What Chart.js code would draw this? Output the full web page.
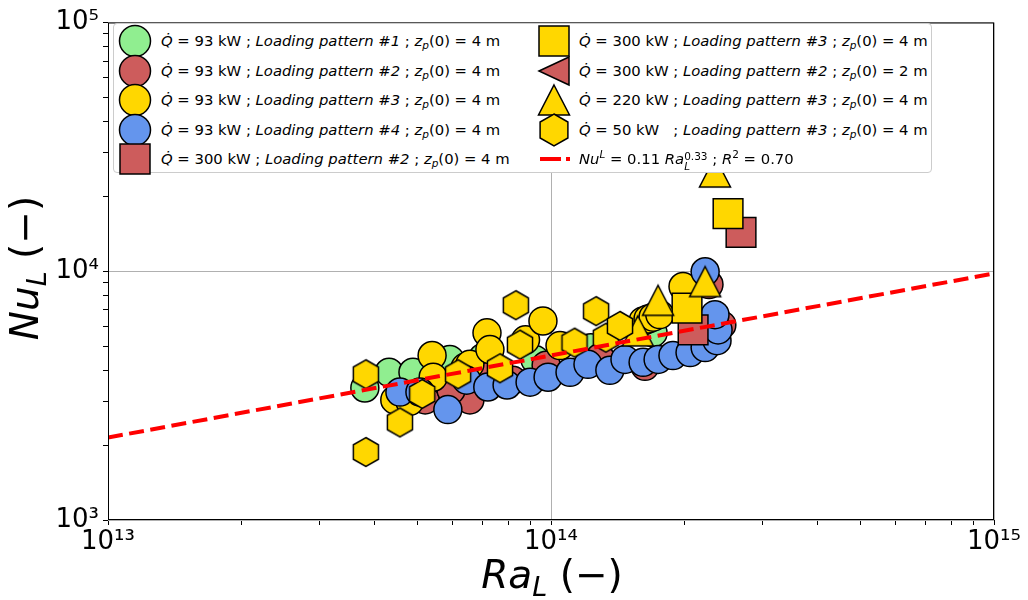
<!DOCTYPE html>
<html>
<head>
    <script src="https://cdn.jsdelivr.net/npm/chart.js@4/dist/chart.umd.min.js"></script>
    <style>
        body { margin: 0; background: #fff; }
        #wrap { position: relative; width: 1028px; height: 600px; font-family: 'DejaVu Sans', sans-serif; }
        #c { position: absolute; left: 0; top: 0; }
        #legend {
            position: absolute; left: 113px; top: 23px; width: 819px; height: 150px;
            background: #fff; border: 1px solid #cccccc; border-radius: 4px;
            box-sizing: border-box;
        }
        .mk { position: absolute; width: 36px; height: 36px; }
        .tx { position: absolute; font-size: 14.8px; line-height: 18px; white-space: pre; color: #000; }
        .tx sub { font-size: 10.5px; vertical-align: -3px; line-height: 0; }
        .tx sup { font-size: 10.5px; vertical-align: 6px; line-height: 0; }
        .ss { display: inline-block; vertical-align: -6px; line-height: 10px; font-size: 10.5px; }
        .ss span { display: block; }
        #xt { position: absolute; left: 352px; width: 400px; top: 553px; text-align: center; font-size: 39px; line-height: 44px; }
        #yt { position: absolute; left: -125px; top: 246px; width: 300px; text-align: center; font-size: 39px; line-height: 44px; transform: rotate(-90deg); }
        #xt sub, #yt sub { font-size: 27px; vertical-align: -8px; line-height: 0; }
    </style>
</head>
<body>
<div id="wrap">
    <canvas id="c" width="1028" height="600"></canvas>
    <div id="legend"></div>
    <div id="xt"><i>Ra</i><sub><i>L</i></sub> (−)</div>
    <div id="yt"><i>Nu</i><sub><i>L</i></sub> (−)</div>
</div>
<script>
    // axis ticks
    const xMajor = [1e13, 1e14, 1e15];
    const xTickLabels = ['10¹³', '10¹⁴', '10¹⁵'];
    const yMajor = [1e3, 1e4, 1e5];
    const yTickLabels = ['10³', '10⁴', '10⁵'];

    // Q = 93 kW, loading pattern #1
    const ra_93_lp1 = [3.80e13, 4.31e13, 4.88e13, 5.91e13, 7.02e13, 9.2e13, 1.23e14, 1.70e14];
    const nu_93_lp1 = [3395, 3925, 3925, 4421, 4500, 4420, 4930, 5650];
    // Q = 93 kW, loading pattern #2
    const ra_93_lp2 = [5.20e13, 6.56e13, 5.95e13, 7.28e13, 8.2e13, 9.75e13, 1.29e14, 1.63e14, 2.273e14, 2.43e14];
    const nu_93_lp2 = [3040, 3040, 3330, 3790, 3650, 4190, 4500, 4150, 8843, 6085];
    // Q = 93 kW, loading pattern #3
    const ra_93_lp3 = [4.44e13, 4.80e13, 5.39e13, 5.42e13, 6.40e13, 6.56e13, 7.17e13, 7.28e13, 8.76e13, 9.59e13, 1.048e14, 1.614e14, 1.656e14, 1.70e14, 1.76e14, 1.986e14];
    const nu_93_lp3 = [3040, 3000, 4584, 3750, 4109, 4224, 5653, 4842, 5300, 6310, 5024, 6310, 6430, 6540, 6700, 8683];
    // Q = 93 kW, loading pattern #4
    const ra_93_lp4 = [4.56e13, 5.06e13, 5.85e13, 6.45e13, 7.2e13, 7.96e13, 8.97e13, 9.85e13, 1.104e14, 1.212e14, 1.358e14, 1.469e14, 1.614e14, 1.745e14, 1.885e14, 2.06e14, 2.228e14, 2.37e14, 2.383e14, 2.345e14, 2.228e14];
    const nu_93_lp4 = [3270, 3270, 2778, 3648, 3425, 3489, 3582, 3749, 3925, 4224, 3998, 4421, 4303, 4421, 4584, 4712, 4932, 5260, 5810, 6690, 9950];
    // Q = 300 kW, loading pattern #2, zp(0) = 4 m
    const ra_300_lp2 = [2.093e14, 2.685e14];
    const nu_300_lp2 = [5810, 14330];
    // Q = 300 kW, loading pattern #3
    const ra_300_lp3 = [2.028e14, 2.51e14];
    const nu_300_lp3 = [7105, 17060];
    // Q = 300 kW, loading pattern #2, zp(0) = 2 m (not visible in the picture)
    const ra_300_lp2_z2 = [];
    const nu_300_lp2_z2 = [];
    // Q = 220 kW, loading pattern #3
    const ra_220_lp3 = [2.345e14, 1.745e14, 2.228e14, 1.57e14];
    const nu_220_lp3 = [25060, 7638, 9087, 5757];
    // Q = 50 kW, loading pattern #3
    const ra_50_lp3 = [3.82e13, 3.82e13, 4.56e13, 5.12e13, 6.17e13, 7.67e13, 8.33e13, 8.51e13, 1.13e14, 1.264e14, 1.33e14, 1.431e14];
    const nu_50_lp3 = [3853, 1876, 2466, 3211, 3853, 4072, 7301, 5070, 5162, 6912, 5404, 6030];
    // fit Nu = 0.11 Ra^0.33
    const fitRa = [1e13, 1e15];
    const fitNu = [2145, 9800];

    const GREEN = '#90ee90', RED = '#cd5c5c', GOLD = '#ffd700', BLUE = '#6495ed';

    function shapeCanvas(fill, kind) {
        const c = document.createElement('canvas');
        c.width = 36; c.height = 36;
        const g = c.getContext('2d');
        g.beginPath();
        if (kind === 'hex') {
            for (let k = 0; k < 6; k++) {
                const a = -Math.PI / 2 + k * Math.PI / 3;
                g.lineTo(18 + 14.5 * Math.cos(a), 18 + 14.5 * Math.sin(a));
            }
        } else if (kind === 'up') {
            g.moveTo(18, 3); g.lineTo(33.5, 33); g.lineTo(2.5, 33);
        } else if (kind === 'left') {
            g.moveTo(3, 18); g.lineTo(33, 3.5); g.lineTo(33, 32.5);
        }
        g.closePath();
        g.fillStyle = fill; g.fill();
        g.lineWidth = 1.5; g.strokeStyle = '#000'; g.stroke();
        return c;
    }

    function pts(ra, nu) { return ra.map((x, i) => ({ x: x, y: nu[i] })); }

    const series = [
        { ra: ra_93_lp1, nu: nu_93_lp1, color: GREEN, style: 'circle', r: 14 },
        { ra: ra_93_lp2, nu: nu_93_lp2, color: RED, style: 'circle', r: 14 },
        { ra: ra_93_lp3, nu: nu_93_lp3, color: GOLD, style: 'circle', r: 14 },
        { ra: ra_93_lp4, nu: nu_93_lp4, color: BLUE, style: 'circle', r: 14 },
        { ra: ra_300_lp2, nu: nu_300_lp2, color: RED, style: 'rect', r: 21 },
        { ra: ra_300_lp3, nu: nu_300_lp3, color: GOLD, style: 'rect', r: 21 },
        { ra: ra_300_lp2_z2, nu: nu_300_lp2_z2, color: RED, style: shapeCanvas(RED, 'left'), r: 15 },
        { ra: ra_220_lp3, nu: nu_220_lp3, color: GOLD, style: shapeCanvas(GOLD, 'up'), r: 15 },
        { ra: ra_50_lp3, nu: nu_50_lp3, color: GOLD, style: shapeCanvas(GOLD, 'hex'), r: 15 }
    ];

    const datasets = series.map((s, i) => ({
        type: 'scatter',
        data: pts(s.ra, s.nu),
        pointStyle: s.style,
        pointRadius: s.r,
        pointBackgroundColor: s.color,
        pointBorderColor: '#000',
        pointBorderWidth: 1.5,
        order: 20 - i
    }));
    datasets.push({
        type: 'line',
        data: pts(fitRa, fitNu),
        borderColor: '#ff0000',
        borderWidth: 4,
        borderDash: [15, 6.5],
        pointRadius: 0,
        fill: false,
        order: 0
    });

    function isMajor(list, v) { return list.findIndex(m => Math.abs(m - v) / m < 1e-9); }
    function logTicks(lo, hi) {
        const t = [];
        for (let d = lo; d < hi; d++) for (let m = 1; m < 10; m++) t.push({ value: m * Math.pow(10, d) });
        t.push({ value: Math.pow(10, hi) });
        return t;
    }

    const frame = {
        id: 'frame',
        afterDatasetsDraw(chart) {
            const a = chart.chartArea, g = chart.ctx;
            g.save();
            g.strokeStyle = '#000'; g.lineWidth = 1;
            g.strokeRect(a.left + 0.5, a.top + 0.5, a.right - a.left - 1, a.bottom - a.top - 1);
            g.restore();
        }
    };

    new Chart(document.getElementById('c'), {
        type: 'scatter',
        data: { datasets: datasets },
        options: {
            responsive: false,
            devicePixelRatio: 1,
            animation: false,
            events: [],
            layout: { padding: { top: 15, right: 34, left: 0, bottom: 0 } },
            plugins: { legend: { display: false }, tooltip: { enabled: false } },
            scales: {
                x: {
                    type: 'logarithmic', position: 'bottom', min: 1e13, max: 1e15,
                    afterBuildTicks: s => { s.ticks = logTicks(13, 15); },
                    afterFit: s => { s.height = 80; s.paddingLeft = 0; s.paddingRight = 0; },
                    border: { display: false },
                    grid: {
                        color: c => isMajor(xMajor, c.tick.value) >= 0 ? '#b0b0b0' : 'rgba(0,0,0,0)',
                        tickColor: '#000', tickLength: 5, drawTicks: true
                    },
                    ticks: {
                        autoSkip: false, maxRotation: 0, padding: 2, color: '#000',
                        font: { family: 'DejaVu Sans', size: 26 },
                        callback: v => { const i = isMajor(xMajor, v); return i >= 0 ? xTickLabels[i] : ''; }
                    }
                },
                y: {
                    type: 'logarithmic', min: 1e3, max: 1e5,
                    afterBuildTicks: s => { s.ticks = logTicks(3, 5); },
                    afterFit: s => { s.width = 108; s.paddingTop = 0; s.paddingBottom = 0; },
                    border: { display: false },
                    grid: {
                        color: c => isMajor(yMajor, c.tick.value) >= 0 ? '#b0b0b0' : 'rgba(0,0,0,0)',
                        tickColor: '#000', tickLength: 5, drawTicks: true
                    },
                    ticks: {
                        autoSkip: false, padding: 4, color: '#000',
                        font: { family: 'DejaVu Sans', size: 26 },
                        callback: v => { const i = isMajor(yMajor, v); return i >= 0 ? yTickLabels[i] : ''; }
                    }
                }
            }
        },
        plugins: [frame]
    });

    // legend (drawn as html over the plot, like the original)
    function svgMarker(kind, fill) {
        let inner = '';
        if (kind === 'circle') inner = '<circle cx="18" cy="18" r="15.5" fill="' + fill + '" stroke="#000" stroke-width="1.5"/>';
        if (kind === 'rect') inner = '<rect x="3" y="3" width="30" height="30" fill="' + fill + '" stroke="#000" stroke-width="1.5"/>';
        if (kind === 'left') inner = '<polygon points="3,18 33,4 33,32" fill="' + fill + '" stroke="#000" stroke-width="1.5"/>';
        if (kind === 'up') inner = '<polygon points="18,3 33.5,33 2.5,33" fill="' + fill + '" stroke="#000" stroke-width="1.5"/>';
        if (kind === 'hex') {
            const p = [];
            for (let k = 0; k < 6; k++) {
                const a = -Math.PI / 2 + k * Math.PI / 3;
                p.push((18 + 16 * Math.cos(a)).toFixed(1) + ',' + (18 + 16 * Math.sin(a)).toFixed(1));
            }
            inner = '<polygon points="' + p.join(' ') + '" fill="' + fill + '" stroke="#000" stroke-width="1.5"/>';
        }
        if (kind === 'dash') inner = '<line x1="0" y1="18" x2="21" y2="18" stroke="#ff0000" stroke-width="4"/><line x1="26" y1="18" x2="30" y2="18" stroke="#ff0000" stroke-width="4"/>';
        return '<svg width="36" height="36" viewBox="0 0 36 36">' + inner + '</svg>';
    }

    const Q = '<i>Q&#775;</i>';
    const ZP = '<i>z</i><sub><i>p</i></sub>';
    const legendRows = [
        [0, 'circle', GREEN, Q + ' = 93 kW ; <i>Loading pattern #1</i> ; ' + ZP + '(0) = 4 m'],
        [0, 'circle', RED, Q + ' = 93 kW ; <i>Loading pattern #2</i> ; ' + ZP + '(0) = 4 m'],
        [0, 'circle', GOLD, Q + ' = 93 kW ; <i>Loading pattern #3</i> ; ' + ZP + '(0) = 4 m'],
        [0, 'circle', BLUE, Q + ' = 93 kW ; <i>Loading pattern #4</i> ; ' + ZP + '(0) = 4 m'],
        [0, 'rect', RED, Q + ' = 300 kW ; <i>Loading pattern #2</i> ; ' + ZP + '(0) = 4 m'],
        [1, 'rect', GOLD, Q + ' = 300 kW ; <i>Loading pattern #3</i> ; ' + ZP + '(0) = 4 m'],
        [1, 'left', RED, Q + ' = 300 kW ; <i>Loading pattern #2</i> ; ' + ZP + '(0) = 2 m'],
        [1, 'up', GOLD, Q + ' = 220 kW ; <i>Loading pattern #3</i> ; ' + ZP + '(0) = 4 m'],
        [1, 'hex', GOLD, Q + ' = 50 kW   ; <i>Loading pattern #3</i> ; ' + ZP + '(0) = 4 m'],
        [1, 'dash', '', '<i>Nu</i><sup><i>L</i></sup> = 0.11 <i>Ra</i><span class="ss"><span>0.33</span><span><i>L</i></span></span> ; <i>R</i><sup>2</sup> = 0.70']
    ];
    const legend = document.getElementById('legend');
    const rowY = [17, 46.5, 76, 105.5, 135];
    const colMk = [21, 440];
    const colTx = [47, 465];
    const counts = [0, 0];
    legendRows.forEach(r => {
        const col = r[0], row = counts[col]++;
        const mk = document.createElement('div');
        mk.className = 'mk';
        mk.style.left = (colMk[col] - 18 + (r[1] === 'dash' ? 4 : 0)) + 'px';
        mk.style.top = (rowY[row] - 18) + 'px';
        mk.innerHTML = svgMarker(r[1], r[2]);
        legend.appendChild(mk);
        const tx = document.createElement('div');
        tx.className = 'tx';
        tx.style.left = colTx[col] + 'px';
        tx.style.top = (rowY[row] - 9) + 'px';
        tx.innerHTML = r[3];
        legend.appendChild(tx);
    });
</script>
</body>
</html>
